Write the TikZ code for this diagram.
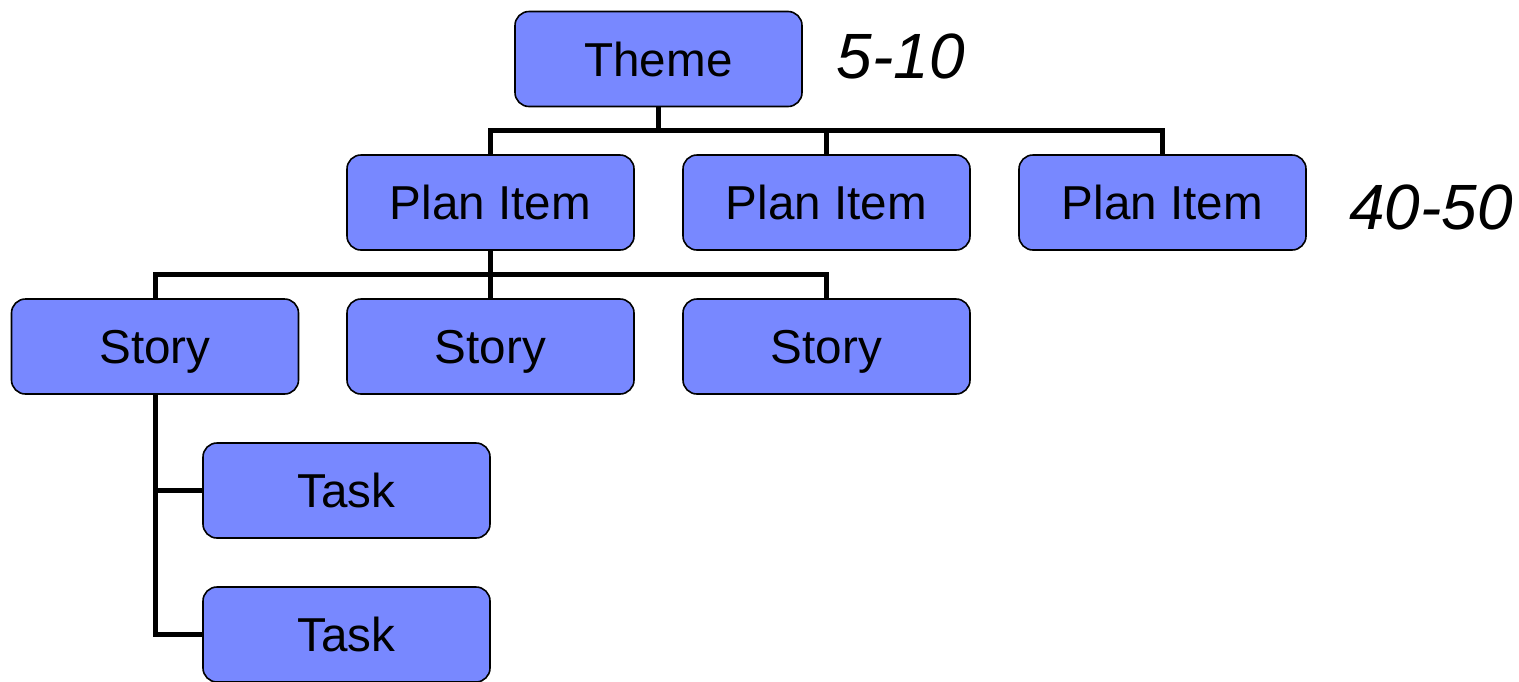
\documentclass[tikz,border=0pt]{standalone}
\usepackage{fontspec}
\setmainfont{Liberation Sans}
\definecolor{boxblue}{HTML}{7888FF}
\begin{document}
\begin{tikzpicture}[x=0.5pt,y=-0.5pt,
  box/.style={draw=black,line width=0.8pt,fill=boxblue,rounded corners=7pt,
    minimum width=143.5pt,minimum height=47.5pt,inner sep=0pt,
    text height=17pt,text depth=0pt,
    font=\fontsize{23.8pt}{28pt}\selectfont},
  conn/.style={line width=2.5pt,black},
  count/.style={font=\fontsize{32pt}{36pt}\itshape\selectfont,inner sep=0pt}]
\useasboundingbox (0,0) rectangle (1519,681);
\node[box] (theme) at (658.5,59) {Theme};
\node[box] (p1) at (490.5,202.5) {Plan Item};
\node[box] (p2) at (826.5,202.5) {Plan Item};
\node[box] (p3) at (1162.5,202.5) {Plan Item};
\node[box] (s1) at (155,346.5) {Story};
\node[box] (s2) at (490.5,346.5) {Story};
\node[box] (s3) at (826.5,346.5) {Story};
\node[box] (t1) at (346.5,490.5) {Task};
\node[box] (t2) at (346.5,634.5) {Task};
\node[count] (c1) at (901,56) {5-10};
\node[count] (c2) at (1431,207) {40-50};
\coordinate (j1) at (658.5,130);
\coordinate (j2) at (490.5,274);
\begin{scope}[conn]
\draw (theme.south) -- (j1);
\draw (p1.north) |- (j1) -| (p3.north);
\draw (p2.north) -- (p2.north |- j1);
\draw (p1.south) -- (j2);
\draw (s1.north) |- (j2) -| (s3.north);
\draw (s2.north) -- (s2.north |- j2);
\draw (s1.south) -- (s1.south |- t2.west) -- (t2.west);
\draw (s1.south |- t1.west) -- (t1.west);
\end{scope}
\end{tikzpicture}
\end{document}
